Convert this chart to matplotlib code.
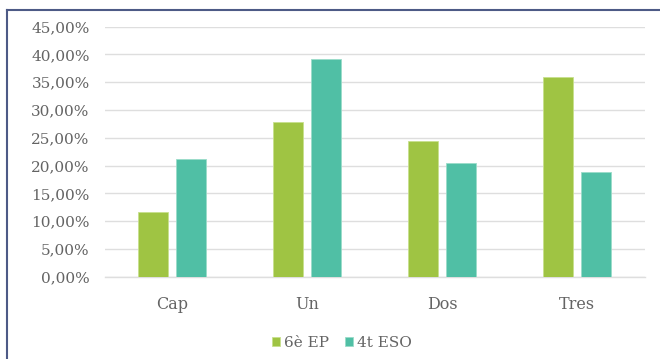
import matplotlib

matplotlib.use("Agg")
import matplotlib.pyplot as plt
import numpy as np
from matplotlib.lines import Line2D
from matplotlib.ticker import FuncFormatter

categories = ["Cap", "Un", "Dos", "Tres"]
series_names = ["6è EP", "4t ESO"]
ep6_values = [11.6, 27.9, 24.4, 36.0]
eso4_values = [21.1, 39.1, 20.4, 18.9]
y_ticks = [0, 5, 10, 15, 20, 25, 30, 35, 40, 45]

GREEN = "#9fc443"
TEAL = "#50bfa5"
TEXT = "#646464"
GRID = "#dedede"
BORDER = "#4d5a86"

plt.rcParams["font.family"] = ["DejaVu Serif"]

fig = plt.figure(figsize=(6.6, 3.59), dpi=100)
ax = fig.add_axes([0.159, 0.229, 0.818, 0.697])

x = np.arange(len(categories))
width = 0.222
offset = 0.141
ax.bar(x - offset, ep6_values, width, color=GREEN, edgecolor="#c8e08e",
       linewidth=0.6, label=series_names[0], zorder=3)
ax.bar(x + offset, eso4_values, width, color=TEAL, edgecolor="#9adcc9",
       linewidth=0.6, label=series_names[1], zorder=3)

ax.set_xlim(-0.5, len(categories) - 0.5)
ax.set_ylim(0, 45)
ax.set_yticks(y_ticks)
ax.yaxis.set_major_formatter(
    FuncFormatter(lambda v, _: f"{v:.2f}".replace(".", ",") + "%"))
ax.set_xticks(x)
ax.set_xticklabels(categories)

ax.grid(axis="y", color=GRID, linewidth=1.0, zorder=0)
for side in ("top", "right", "left"):
    ax.spines[side].set_visible(False)
ax.spines["bottom"].set_color(GRID)
ax.spines["bottom"].set_linewidth(1.0)
ax.tick_params(axis="both", length=0, colors=TEXT)
ax.tick_params(axis="y", labelsize=11, pad=11)
ax.tick_params(axis="x", labelsize=11.5, pad=14)

fig.legend(loc="center", bbox_to_anchor=(0.518, 0.045), ncol=2,
           frameon=False, fontsize=11, labelcolor=TEXT,
           handlelength=0.55, handleheight=0.55, handletextpad=0.25,
           columnspacing=1.0)

# frame of the screenshot: top and left edges only
fig.add_artist(Line2D([7 / 660, 1], [1 - 10 / 359] * 2, color=BORDER,
                      linewidth=1.5, transform=fig.transFigure))
fig.add_artist(Line2D([7 / 660] * 2, [0, 1 - 10 / 359], color=BORDER,
                      linewidth=1.5, transform=fig.transFigure))

fig.savefig("out.png", dpi=100)
